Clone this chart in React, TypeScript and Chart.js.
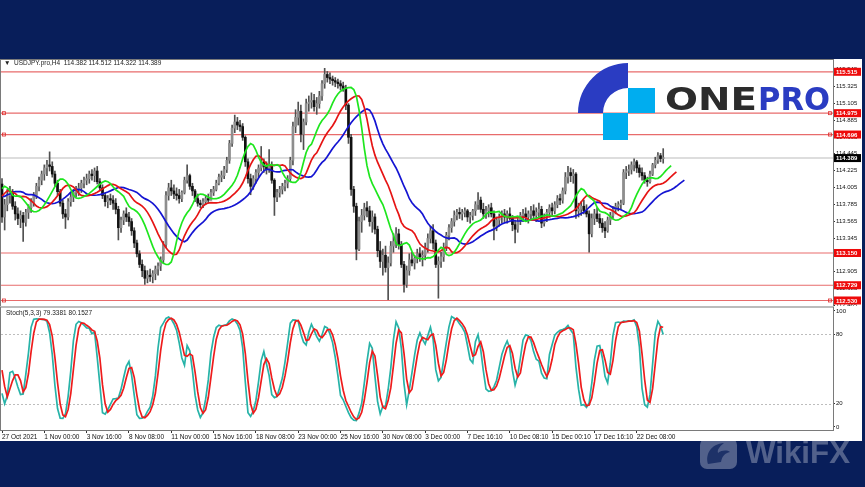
import React, { useEffect, useRef } from "react";
import { Chart, registerables } from "chart.js";
Chart.register(...registerables);

// ---------- DATA (H4 candles, open = previous close) ----------
const firstOpen = 114.05;
const highs = [
  114.12, 113.85, 113.98, 114.02, 113.98, 113.82, 113.74, 113.70, 113.68, 113.72,
  113.78, 113.86, 113.94, 114.06, 114.14, 114.22, 114.30, 114.36, 114.47, 114.34,
  114.22, 114.10, 113.98, 113.84, 113.72, 113.86, 113.94, 113.98, 114.02, 114.06,
  114.10, 114.14, 114.18, 114.22, 114.24, 114.26, 114.28, 114.12, 114.04, 113.94,
  113.90, 113.92, 113.90, 113.86, 113.76, 113.62, 113.70, 113.74, 113.68, 113.60,
  113.48, 113.32, 113.18, 113.06, 112.98, 112.92, 112.94, 112.92, 112.98, 113.02,
  113.10, 113.30, 113.95, 114.06, 114.10, 114.04, 114.00, 113.98, 113.96, 114.14,
  114.30, 114.18, 114.06, 113.98, 113.92, 113.84, 113.86, 113.90, 113.92, 113.98,
  114.02, 114.10, 114.18, 114.22, 114.28, 114.40, 114.62, 114.82, 114.95, 114.92,
  114.88, 114.84, 114.68, 114.38, 114.18, 114.16, 114.24, 114.30, 114.54, 114.38,
  114.34, 114.50, 114.34, 114.12, 113.98, 114.02, 114.06, 114.10, 114.16, 114.40,
  114.86, 115.02, 115.12, 115.08, 114.90, 115.16, 115.20, 115.24, 115.22, 115.18,
  115.26, 115.40, 115.56, 115.52, 115.50, 115.46, 115.44, 115.42, 115.40, 115.38,
  115.34, 115.10, 114.70, 114.02, 113.80, 113.62, 113.72, 113.80, 113.82, 113.76,
  113.70, 113.66, 113.50, 113.30, 113.20, 113.24, 113.10, 113.30, 113.40, 113.48,
  113.46, 113.30, 113.04, 112.98, 113.14, 113.16, 113.12, 113.20, 113.22, 113.18,
  113.28, 113.40, 113.50, 113.52, 113.32, 113.10, 113.16, 113.28, 113.42, 113.52,
  113.60, 113.70, 113.72, 113.74, 113.72, 113.74, 113.72, 113.68, 113.72, 113.82,
  113.94, 113.88, 113.80, 113.76, 113.78, 113.80, 113.70, 113.62, 113.66, 113.70,
  113.72, 113.70, 113.74, 113.64, 113.58, 113.60, 113.68, 113.72, 113.74, 113.70,
  113.76, 113.78, 113.74, 113.80, 113.76, 113.66, 113.72, 113.78, 113.80, 113.82,
  113.90, 113.92, 114.00, 114.20, 114.28, 114.26, 114.24, 114.20, 113.80, 113.82,
  113.84, 113.78, 113.70, 113.66, 113.72, 113.74, 113.66, 113.60, 113.56, 113.62,
  113.68, 113.76, 113.80, 113.82, 113.84, 114.24, 114.28, 114.30, 114.34, 114.38,
  114.36, 114.30, 114.26, 114.20, 114.14, 114.22, 114.32, 114.40, 114.46, 114.45,
  114.512,
];
const lows = [
  113.55, 113.45, 113.70, 113.80, 113.72, 113.58, 113.52, 113.48, 113.30, 113.50,
  113.60, 113.68, 113.76, 113.86, 113.96, 114.04, 114.10, 114.16, 114.22, 114.14,
  114.02, 113.90, 113.76, 113.60, 113.47, 113.58, 113.76, 113.82, 113.88, 113.90,
  113.94, 114.00, 114.04, 114.06, 114.10, 114.08, 114.05, 113.96, 113.86, 113.76,
  113.74, 113.78, 113.72, 113.66, 113.32, 113.42, 113.52, 113.56, 113.50, 113.38,
  113.22, 113.10, 112.96, 112.84, 112.74, 112.76, 112.78, 112.76, 112.80, 112.86,
  112.92, 113.02, 113.22, 113.84, 113.90, 113.86, 113.84, 113.80, 113.82, 113.92,
  114.06, 113.98, 113.90, 113.82, 113.76, 113.74, 113.74, 113.78, 113.80, 113.84,
  113.90, 113.96, 114.04, 114.08, 114.12, 114.20, 114.32, 114.54, 114.72, 114.76,
  114.74, 114.62, 114.28, 114.06, 113.91, 113.98, 114.06, 114.14, 114.22, 114.20,
  114.18, 114.20, 114.06, 113.64, 113.82, 113.88, 113.92, 113.96, 114.00, 114.08,
  114.30, 114.72, 114.82, 114.60, 114.50, 114.82, 115.00, 115.04, 115.00, 114.96,
  115.04, 115.14, 115.30, 115.38, 115.36, 115.34, 115.32, 115.30, 115.28, 115.26,
  115.02, 114.58, 113.90, 113.68, 113.06, 113.18, 113.42, 113.58, 113.62, 113.50,
  113.42, 113.40, 113.10, 112.96, 112.86, 112.90, 112.54, 112.98, 113.16, 113.22,
  113.20, 112.96, 112.64, 112.70, 112.86, 112.98, 112.94, 113.02, 113.04, 112.98,
  113.06, 113.16, 113.28, 113.20, 112.96, 112.56, 112.96, 113.04, 113.18, 113.32,
  113.42, 113.50, 113.58, 113.60, 113.58, 113.62, 113.56, 113.54, 113.58, 113.64,
  113.72, 113.68, 113.60, 113.60, 113.62, 113.62, 113.32, 113.44, 113.50, 113.54,
  113.56, 113.54, 113.58, 113.44, 113.28, 113.42, 113.52, 113.56, 113.58, 113.54,
  113.58, 113.60, 113.56, 113.60, 113.48, 113.50, 113.56, 113.62, 113.64, 113.66,
  113.74, 113.78, 113.80, 113.92, 114.06, 114.08, 114.06, 113.60, 113.62, 113.64,
  113.66, 113.62, 113.16, 113.36, 113.52, 113.56, 113.48, 113.42, 113.35, 113.42,
  113.52, 113.60, 113.66, 113.70, 113.72, 113.78, 114.12, 114.16, 114.18, 114.22,
  114.20, 114.14, 114.10, 114.06, 114.02, 114.06, 114.16, 114.26, 114.32, 114.34,
  114.322,
];
const closes = [
  113.62, 113.78, 113.90, 113.95, 113.76, 113.66, 113.60, 113.64, 113.55, 113.68,
  113.74, 113.82, 113.90, 114.02, 114.10, 114.18, 114.26, 114.30, 114.28, 114.18,
  114.06, 113.95, 113.80, 113.66, 113.62, 113.82, 113.88, 113.94, 113.98, 114.00,
  114.06, 114.10, 114.12, 114.18, 114.16, 114.22, 114.08, 114.00, 113.90, 113.82,
  113.86, 113.84, 113.80, 113.72, 113.48, 113.58, 113.66, 113.62, 113.56, 113.44,
  113.28, 113.14, 113.00, 112.92, 112.82, 112.86, 112.84, 112.88, 112.94, 112.98,
  113.06, 113.26, 113.90, 114.00, 113.96, 113.92, 113.90, 113.86, 113.94, 114.10,
  114.16, 114.02, 113.96, 113.86, 113.80, 113.78, 113.82, 113.86, 113.84, 113.94,
  113.98, 114.06, 114.14, 114.16, 114.24, 114.36, 114.58, 114.78, 114.86, 114.82,
  114.80, 114.66, 114.34, 114.12, 114.02, 114.12, 114.20, 114.26, 114.34, 114.28,
  114.24, 114.30, 114.10, 113.88, 113.94, 113.98, 114.02, 114.06, 114.12, 114.36,
  114.80, 114.92, 115.00, 114.70, 114.86, 115.10, 115.12, 115.14, 115.06, 115.10,
  115.20, 115.36, 115.48, 115.44, 115.42, 115.40, 115.38, 115.36, 115.33, 115.30,
  115.08, 114.66, 113.98, 113.76, 113.20, 113.56, 113.64, 113.74, 113.70, 113.56,
  113.62, 113.46, 113.18, 113.04, 113.12, 112.96, 113.02, 113.24, 113.30, 113.40,
  113.26, 113.00, 112.74, 112.92, 113.06, 113.02, 113.08, 113.14, 113.10, 113.12,
  113.22, 113.34, 113.44, 113.28, 113.00, 113.04, 113.10, 113.22, 113.38, 113.48,
  113.56, 113.64, 113.68, 113.66, 113.68, 113.70, 113.62, 113.64, 113.70, 113.78,
  113.84, 113.72, 113.66, 113.70, 113.74, 113.66, 113.50, 113.58, 113.62, 113.66,
  113.62, 113.66, 113.60, 113.52, 113.46, 113.56, 113.64, 113.66, 113.62, 113.66,
  113.70, 113.64, 113.68, 113.72, 113.54, 113.62, 113.68, 113.74, 113.70, 113.78,
  113.86, 113.84, 113.96, 114.14, 114.20, 114.16, 114.18, 113.70, 113.72, 113.76,
  113.70, 113.66, 113.40, 113.60, 113.66, 113.60, 113.54, 113.48, 113.44, 113.58,
  113.64, 113.72, 113.76, 113.78, 113.80, 114.20, 114.22, 114.24, 114.30, 114.34,
  114.26, 114.20, 114.16, 114.10, 114.08, 114.18, 114.30, 114.36, 114.42, 114.382,
  114.389,
];

// Alligator line values visible before the first computed point
const jawHead = [113.89, 113.89, 113.91, 113.92, 113.94, 113.95, 113.95, 113.95];
const teethHead = [113.89, 113.93, 113.96, 113.96, 113.94];
const lipsHead = [113.99, 114.02, 114.0];
// Stochastic values visible before the first computed point
const kHead = [29, 20, 27, 47, 48, 42];
const dHead = [49, 35, 26, 33, 40, 45, 45, 40];

const xTickLabels = [
  "27 Oct 2021", "1 Nov 00:00", "3 Nov 16:00", "8 Nov 08:00", "11 Nov 00:00",
  "15 Nov 16:00", "18 Nov 08:00", "23 Nov 00:00", "25 Nov 16:00", "30 Nov 08:00",
  "3 Dec 00:00", "7 Dec 16:10", "10 Dec 08:10", "15 Dec 00:10", "17 Dec 16:10",
  "22 Dec 08:00",
];
const barsPerTick = 16;
const priceTicks = [
  112.465, 112.685, 112.905, 113.125, 113.345, 113.565, 113.785, 114.005,
  114.225, 114.445, 114.665, 114.885, 115.105, 115.325, 115.545,
];
const levelLines = [115.515, 114.975, 114.696, 113.15, 112.729, 112.53];
const markedLevels = [114.975, 114.696, 112.53];
const bidPrice = 114.389;
const stochTicks = [0, 20, 80, 100];
const stochLevels = [20, 80];

// ---------- layout constants ----------
const NAVY = "#081e5a";
const X_MIN = -0.38;
const X_MAX = 314.2;
const P_MAX = 115.669;
const P_MIN = 112.458;
const FONT = "Liberation Sans";

// ---------- derived indicator series ----------
const opens = closes.map((c, i) => (i === 0 ? firstOpen : closes[i - 1]));
const medians = highs.map((h, i) => (h + lows[i]) / 2);

function smma(src: number[], n: number, seed: number) {
  let v = seed;
  return src.map((p) => (v = (v * (n - 1) + p) / n));
}
function alligatorPts(head: number[], n: number, shift: number) {
  const vals = smma(medians, n, head[head.length - 1]);
  return [
    ...head.map((y, i) => ({ x: i, y })),
    ...vals.map((y, i) => ({ x: i + shift, y })),
  ];
}
function stochPts() {
  const N = closes.length;
  const num: number[] = [];
  const den: number[] = [];
  for (let i = 0; i < N; i++) {
    if (i < 4) { num.push(NaN); den.push(NaN); continue; }
    let hh = -Infinity, ll = Infinity;
    for (let j = i - 4; j <= i; j++) { hh = Math.max(hh, highs[j]); ll = Math.min(ll, lows[j]); }
    num.push(closes[i] - ll);
    den.push(hh - ll);
  }
  const K: number[] = [];
  for (let i = 0; i < N; i++) {
    if (i < 6) { K.push(NaN); continue; }
    const a = num[i] + num[i - 1] + num[i - 2];
    const b = den[i] + den[i - 1] + den[i - 2];
    K.push(b === 0 ? 100 : (a / b) * 100);
  }
  const kP = K.map((v, i) => ({ x: i, y: i < 6 ? kHead[i] : v }));
  const dP = K.map((_, i) => ({
    x: i,
    y: i < 8 ? dHead[i] : (K[i] + K[i - 1] + K[i - 2]) / 3,
  }));
  return { kP, dP };
}

const framePlugin = {
  id: "frame",
  afterDraw(chart: any) {
    const { ctx, chartArea: a } = chart;
    ctx.save();
    ctx.strokeStyle = "#7a7a7a";
    ctx.lineWidth = 1;
    ctx.strokeRect(a.left - 0.5, a.top - 0.5, a.right - a.left + 1, a.bottom - a.top + 1);
    ctx.restore();
  },
};

const levelsPlugin = {
  id: "levels",
  beforeDatasetsDraw(chart: any) {
    const { ctx, chartArea: a, scales } = chart;
    const y = scales.y;
    ctx.save();
    ctx.beginPath();
    ctx.rect(a.left, a.top, a.right - a.left, a.bottom - a.top);
    ctx.clip();
    const yb = y.getPixelForValue(bidPrice);
    ctx.strokeStyle = "#d2d2d2";
    ctx.lineWidth = 1.5;
    ctx.beginPath();
    ctx.moveTo(a.left, yb);
    ctx.lineTo(a.right, yb);
    ctx.stroke();
    ctx.strokeStyle = "rgba(226,70,70,0.8)";
    ctx.lineWidth = 1.2;
    levelLines.forEach((v) => {
      const py = y.getPixelForValue(v);
      ctx.beginPath();
      ctx.moveTo(a.left, py);
      ctx.lineTo(a.right, py);
      ctx.stroke();
    });
    ctx.lineWidth = 0.8;
    ctx.strokeStyle = "#e03030";
    markedLevels.forEach((v) => {
      const py = y.getPixelForValue(v);
      ctx.strokeRect(a.left + 1.5, py - 1.5, 3, 3);
      ctx.strokeRect(a.right - 4.5, py - 1.5, 3, 3);
    });
    ctx.restore();
  },
  afterDraw(chart: any) {
    const { ctx, chartArea: a, scales } = chart;
    const y = scales.y;
    ctx.save();
    ctx.font = `bold 6px ${FONT}`;
    ctx.textBaseline = "middle";
    const box = (v: number, bg: string) => {
      const py = y.getPixelForValue(v);
      ctx.fillStyle = bg;
      ctx.fillRect(a.right + 1, py - 4, 27, 8);
      ctx.fillStyle = "#fff";
      ctx.fillText(v.toFixed(3), a.right + 3, py + 0.5);
    };
    levelLines.forEach((v) => box(v, "#ee0a0a"));
    box(bidPrice, "#000");
    ctx.restore();
  },
};

const stochLevelsPlugin = {
  id: "stochLevels",
  beforeDatasetsDraw(chart: any) {
    const { ctx, chartArea: a, scales } = chart;
    ctx.save();
    ctx.strokeStyle = "#bdbdbd";
    ctx.lineWidth = 1;
    ctx.setLineDash([2, 2]);
    stochLevels.forEach((v) => {
      const py = Math.round(scales.y.getPixelForValue(v)) + 0.5;
      ctx.beginPath();
      ctx.moveTo(a.left, py);
      ctx.lineTo(a.right, py);
      ctx.stroke();
    });
    ctx.restore();
  },
};

export default function App() {
  const mainRef = useRef<HTMLCanvasElement>(null);
  const stochRef = useRef<HTMLCanvasElement>(null);

  useEffect(() => {
    document.body.style.margin = "0";
    const wicks = highs.map((h, i) => ({
      x: i,
      y: [Math.min(lows[i], opens[i], closes[i]), Math.max(h, opens[i], closes[i])],
    }));
    const bodies = closes.map((c, i) => ({ x: i, y: [opens[i], c] }));
    const bodyColors = closes.map((c, i) => (c >= opens[i] ? "#8e8e8e" : "#111111"));

    const main = new Chart(mainRef.current as HTMLCanvasElement, {
      type: "bar",
      data: {
        datasets: [
          { type: "line", label: "Lips", data: alligatorPts(lipsHead, 5, 3), borderColor: "#1ee61e", borderWidth: 1.7, pointRadius: 0, tension: 0, order: 0 } as any,
          { type: "line", label: "Teeth", data: alligatorPts(teethHead, 8, 5), borderColor: "#e61414", borderWidth: 1.7, pointRadius: 0, tension: 0, order: 0.1 } as any,
          { type: "line", label: "Jaw", data: alligatorPts(jawHead, 13, 8), borderColor: "#1414d2", borderWidth: 1.7, pointRadius: 0, tension: 0, order: 0.2 } as any,
          { type: "bar", label: "Bodies", data: bodies, backgroundColor: bodyColors, barThickness: 2, grouped: false, minBarLength: 1, borderWidth: 0, order: 1 } as any,
          { type: "bar", label: "Wicks", data: wicks, backgroundColor: "#505050", barThickness: 1, grouped: false, borderWidth: 0, order: 2 } as any,
        ],
      },
      options: {
        responsive: false,
        animation: false,
        events: [],
        layout: { padding: { left: 1, top: 1, right: 0, bottom: 0 } },
        plugins: { legend: { display: false }, tooltip: { enabled: false } },
        scales: {
          x: { type: "linear", min: X_MIN, max: X_MAX, display: false, offset: false },
          y: {
            position: "right",
            min: P_MIN,
            max: P_MAX,
            afterBuildTicks: (s: any) => { s.ticks = priceTicks.map((v) => ({ value: v })); },
            afterFit: (s: any) => { s.width = 29; s.paddingTop = 0; s.paddingBottom = 0; },
            ticks: {
              autoSkip: false,
              padding: 1,
              color: "#111",
              font: { family: FONT, size: 6 },
              callback: (v: any) => Number(v).toFixed(3),
            },
            grid: { drawOnChartArea: false, drawTicks: true, tickLength: 2, color: "#333" },
            border: { color: "#555" },
          },
        },
      } as any,
      plugins: [levelsPlugin, framePlugin],
    });

    const { kP, dP } = stochPts();
    const stoch = new Chart(stochRef.current as HTMLCanvasElement, {
      type: "line",
      data: {
        datasets: [
          { label: "%D", data: dP, borderColor: "#ee1c1c", borderWidth: 1.7, pointRadius: 0, tension: 0, order: 0 },
          { label: "%K", data: kP, borderColor: "#27b3a8", borderWidth: 1.7, pointRadius: 0, tension: 0, order: 1 },
        ],
      },
      options: {
        responsive: false,
        animation: false,
        events: [],
        layout: { padding: { left: 1, top: 1.5, right: 0, bottom: 0 } },
        plugins: { legend: { display: false }, tooltip: { enabled: false } },
        scales: {
          x: {
            type: "linear",
            min: X_MIN,
            max: X_MAX,
            afterBuildTicks: (s: any) => { s.ticks = xTickLabels.map((_, k) => ({ value: k * barsPerTick })); },
            afterFit: (s: any) => { s.height = 11; s.paddingLeft = 0; s.paddingRight = 0; },
            ticks: {
              autoSkip: false,
              maxRotation: 0,
              minRotation: 0,
              align: "start",
              padding: 0,
              color: "#111",
              font: { family: FONT, size: 6.5 },
              callback: (_v: any, i: number) => xTickLabels[i],
            },
            grid: { drawOnChartArea: false, drawTicks: true, tickLength: 3, color: "#333" },
            border: { color: "#555" },
          },
          y: {
            position: "right",
            min: -2.6,
            max: 103,
            afterBuildTicks: (s: any) => { s.ticks = stochTicks.map((v) => ({ value: v })); },
            afterFit: (s: any) => { s.width = 29; s.paddingTop = 0; s.paddingBottom = 0; },
            ticks: { autoSkip: false, padding: 1, color: "#111", font: { family: FONT, size: 6 } },
            grid: { drawOnChartArea: false, drawTicks: true, tickLength: 2, color: "#333" },
            border: { color: "#555" },
          },
        },
      } as any,
      plugins: [stochLevelsPlugin, framePlugin],
    });

    return () => {
      main.destroy();
      stoch.destroy();
    };
  }, []);

  return (
    <div style={{ position: "fixed", left: 0, top: 0, width: 865, height: 487, background: NAVY, overflow: "hidden" }}>
      <div style={{ position: "absolute", left: 0, top: 59, width: 862, height: 382, background: "#fff" }} />
      <canvas ref={mainRef} width={862} height={247} style={{ position: "absolute", left: 0, top: 59, width: 862, height: 247 }} />
      <canvas ref={stochRef} width={862} height={135} style={{ position: "absolute", left: 0, top: 306, width: 862, height: 135 }} />
      <div style={{ position: "absolute", left: 4, top: 59, fontFamily: FONT, fontSize: 6.5, lineHeight: "8px", color: "#222", whiteSpace: "pre" }}>
        {"▼  USDJPY.pro,H4  114.382 114.512 114.322 114.389"}
      </div>
      <div style={{ position: "absolute", left: 6, top: 308.5, fontFamily: FONT, fontSize: 6.5, lineHeight: "8px", color: "#222", whiteSpace: "pre" }}>
        {"Stoch(5,3,3) 79.3381 80.1527"}
      </div>
      <svg style={{ position: "absolute", left: 575, top: 58 }} width={262} height={86}>
        <path d="M 3 55 A 50 50 0 0 1 53 5 L 53 30 A 25 25 0 0 0 28 55 Z" fill="#2a3cc2" />
        <rect x={53} y={30} width={27} height={25} fill="#00adef" />
        <rect x={28} y={55} width={25} height={27} fill="#00adef" />
        <text x={90} y={52} fontFamily="DejaVu Sans" fontWeight="bold" fontSize={32} fill="#2c2c2c" textLength={92} lengthAdjust="spacingAndGlyphs">ONE</text>
        <text x={183} y={52} fontFamily="DejaVu Sans" fontWeight="bold" fontSize={32} fill="#2a3cc2" textLength={72} lengthAdjust="spacingAndGlyphs">PRO</text>
      </svg>
      <svg style={{ position: "absolute", left: 696, top: 435 }} width={165} height={40}>
        <rect x={4} y={3} width={37} height={31} rx={7} fill="rgba(255,255,255,0.3)" />
        <path d="M12 29 C 9 19, 15 9, 28 8 C 23 12, 21 15, 22 18 C 26 15, 31 15, 34 17 C 29 18, 26 21, 25 27 Z" fill={NAVY} opacity={0.7} />
        <text x={50} y={28} fontFamily={FONT} fontWeight="bold" fontSize={31} fill="rgba(255,255,255,0.3)" textLength={104} lengthAdjust="spacingAndGlyphs">WikiFX</text>
      </svg>
    </div>
  );
}
